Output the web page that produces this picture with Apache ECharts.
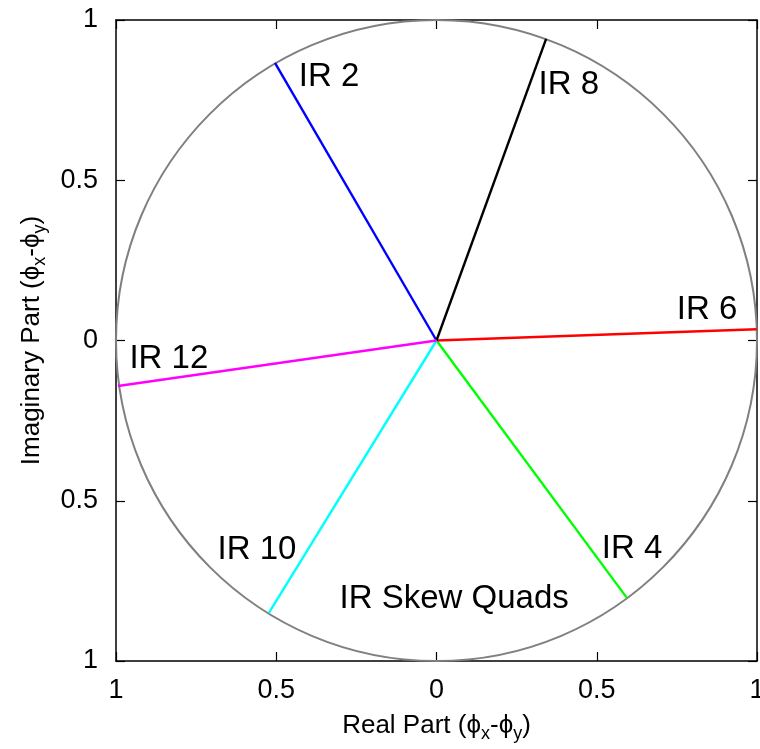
<!DOCTYPE html>
<html>
<head>
<meta charset="utf-8">
<script src="https://cdn.jsdelivr.net/npm/echarts@6/dist/echarts.min.js"></script>
<style>
  html, body { margin: 0; padding: 0; background: #fff; }
  #chart { width: 760px; height: 749px; }
</style>
</head>
<body>
<div id="chart"></div>
<script>
// Phase of each IR skew quadrupole on the unit circle (real, imaginary)
const regions = ['IR 2', 'IR 4', 'IR 6', 'IR 8', 'IR 10', 'IR 12'];
const realPart = [-0.504, 0.594, 0.999, 0.342, -0.523, -0.994];
const imagPart = [0.866, -0.803, 0.035, 0.941, -0.850, -0.142];
const axisTicks = [-1, -0.5, 0, 0.5, 1];

const lineColors = ['#0000ff', '#00ff00', '#ff0000', '#000000', '#00ffff', '#ff00ff'];

// where each region name is written (data coordinates)
const labelAnchors = {
  'IR 2': [-0.335, 0.822],
  'IR 4': [0.610, -0.650],
  'IR 6': [0.844, 0.095],
  'IR 8': [0.413, 0.797],
  'IR 10': [-0.560, -0.654],
  'IR 12': [-0.835, -0.058],
  'IR Skew Quads': [0.055, -0.807]
};

const FONT = '"Liberation Sans", Arial, Helvetica, sans-serif';

const titleRich = {
  n: { fontSize: 26, fontFamily: FONT, color: '#000', lineHeight: 34 },
  s: { fontSize: 18, fontFamily: FONT, color: '#000', lineHeight: 34, verticalAlign: 'bottom' }
};

const chart = echarts.init(document.getElementById('chart'), null, { renderer: 'canvas' });

const axisLineStyle = { show: true, onZero: false, lineStyle: { color: '#000', width: 1.5 } };
const tickStyle = { show: true, inside: true, length: 9, lineStyle: { color: '#000', width: 1.2 } };

const series = [];

// unit circle, drawn through the axes' own scale
series.push({
  type: 'custom',
  coordinateSystem: 'cartesian2d',
  data: [[0, 0, 1]],
  silent: true,
  z: 1,
  renderItem: function (params, api) {
    const c = api.coord([api.value(0), api.value(1)]);
    const r = api.size([api.value(2), api.value(2)]);
    return {
      type: 'ellipse',
      shape: { cx: c[0], cy: c[1], rx: r[0], ry: r[1] },
      style: { fill: null, stroke: '#808080', lineWidth: 2 }
    };
  }
});

regions.forEach(function (name, i) {
  series.push({
    type: 'line',
    name: name,
    data: [[0, 0], [realPart[i], imagPart[i]]],
    showSymbol: false,
    symbol: 'none',
    lineStyle: { color: lineColors[i], width: 2.4 },
    z: 3,
    silent: true
  });
});

series.push({
  type: 'scatter',
  symbolSize: 0,
  silent: true,
  z: 5,
  data: Object.keys(labelAnchors).map(function (k) {
    return { name: k, value: labelAnchors[k] };
  }),
  itemStyle: { opacity: 1 },
  label: {
    show: true,
    position: 'inside',
    formatter: function (p) { return p.name; },
    fontSize: 33,
    fontFamily: FONT,
    color: '#000',
    textBorderWidth: 0,
    opacity: 1
  }
});

chart.setOption({
  animation: false,
  backgroundColor: '#fff',
  grid: { left: 116, right: 3, top: 20, bottom: 88, containLabel: false, outerBoundsMode: 'none' },
  xAxis: [{
    type: 'value',
    min: axisTicks[0],
    max: axisTicks[axisTicks.length - 1],
    interval: 0.5,
    position: 'bottom',
    axisLine: axisLineStyle,
    axisTick: tickStyle,
    splitLine: { show: false },
    axisLabel: {
      show: true,
      margin: 16,
      fontSize: 27,
      fontFamily: FONT,
      color: '#000',
      formatter: function (v) { return String(Math.abs(v)); }
    },
    name: '{n|Real Part (ϕ}{s|x}{n|-ϕ}{s|y}{n|)}',
    nameLocation: 'middle',
    nameGap: 48,
    nameTextStyle: { rich: titleRich }
  }, {
    type: 'value',
    min: -1, max: 1, interval: 0.5,
    position: 'top',
    axisLine: axisLineStyle,
    axisTick: tickStyle,
    axisLabel: { show: false },
    splitLine: { show: false }
  }],
  yAxis: [{
    type: 'value',
    min: axisTicks[0],
    max: axisTicks[axisTicks.length - 1],
    interval: 0.5,
    position: 'left',
    axisLine: axisLineStyle,
    axisTick: tickStyle,
    splitLine: { show: false },
    axisLabel: {
      show: true,
      margin: 18,
      fontSize: 27,
      fontFamily: FONT,
      color: '#000',
      formatter: function (v) { return String(Math.abs(v)); }
    },
    name: '{n|Imaginary Part (ϕ}{s|x}{n|-ϕ}{s|y}{n|)}',
    nameLocation: 'middle',
    nameGap: 67,
    nameRotate: 90,
    nameTextStyle: { rich: titleRich }
  }, {
    type: 'value',
    min: -1, max: 1, interval: 0.5,
    position: 'right',
    axisLine: axisLineStyle,
    axisTick: tickStyle,
    axisLabel: { show: false },
    splitLine: { show: false }
  }],
  series: series
});
</script>
</body>
</html>
